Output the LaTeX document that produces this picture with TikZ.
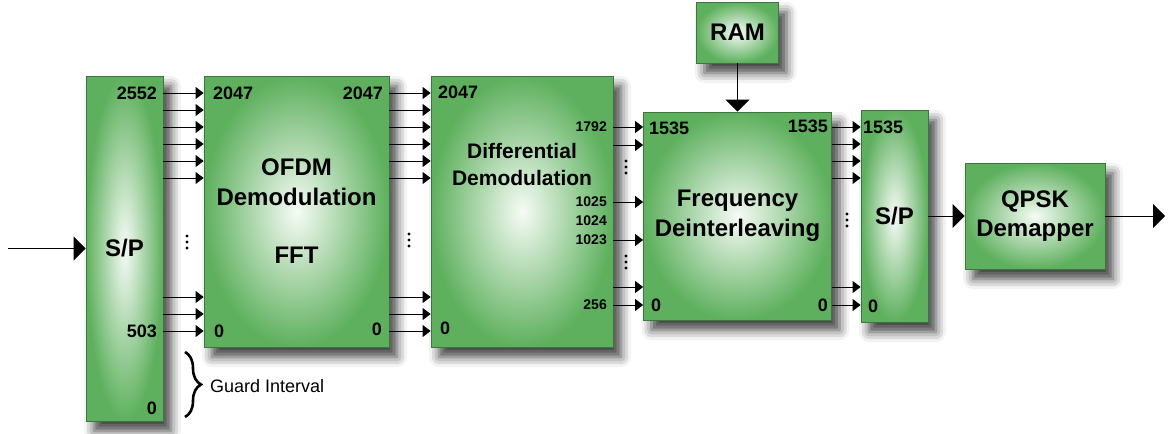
\documentclass[tikz,border=0pt]{standalone}
\usepackage{fontspec}
\setmainfont{Liberation Sans}
\usetikzlibrary{arrows.meta,shadows.blur,decorations.pathreplacing}
\definecolor{blockgreen}{RGB}{94,176,94}
\definecolor{blockcore}{RGB}{246,251,246}
\definecolor{blockedge}{RGB}{62,116,62}
\begin{document}
\begin{tikzpicture}[x=1pt,y=-1pt,
  block/.style={draw=blockedge, line width=0.8pt, shading=radial, inner color=blockcore, outer color=blockgreen,
    blur shadow={shadow xshift=8pt, shadow yshift=-10pt, shadow blur radius=10pt, shadow opacity=75},
    align=center, inner sep=0pt, font=\fontsize{24}{29.5}\selectfont\bfseries},
  port/.style={inner sep=0pt, font=\fontsize{18}{20}\selectfont\bfseries},
  subport/.style={inner sep=0pt, font=\fontsize{14}{16}\selectfont\bfseries},
  wire/.style={line width=0.8pt, -{Triangle[length=8pt,width=12pt]}},
  mainwire/.style={line width=0.8pt, -{Triangle[length=12pt,width=24pt]}}]
  \useasboundingbox (0,0) rectangle (1171,434);

  % blocks
  \node[block, minimum width=77pt, minimum height=345pt] (sp1) at (124.5,248.5) {S/P};
  \node[block, minimum width=185pt, minimum height=271pt] (ofdm) at (296.5,211.5) {OFDM\\Demodulation\\[29pt]FFT};
  \node[block, minimum width=182pt, minimum height=271pt] (diff) at (522,211.5) {};
  \node[block, minimum width=188pt, minimum height=208pt] (freq) at (737.5,216) {Frequency\\Deinterleaving};
  \node[block, minimum width=82pt, minimum height=61pt] (ram) at (737.5,32.5) {RAM};
  \node[block, minimum width=67pt, minimum height=212pt] (sp2) at (894.5,216) {S/P};
  \node[block, minimum width=140pt, minimum height=106pt] (qpsk) at (1035,216) {QPSK\\Demapper};
  \node[align=center, inner sep=0pt, font=\fontsize{21}{27}\selectfont\bfseries] (difftxt) at (522,164) {Differential\\Demodulation};

  % port numbers
  \node[port, anchor=east] (sp1hi) at (157,93) {2552};
  \node[port, anchor=east] (sp1gi) at (157,331) {503};
  \node[port, anchor=east] (sp1lo) at (157,408) {0};
  \node[port, anchor=west] (ofdmhi) at (213,93) {2047};
  \node[port, anchor=east] (ofdmhr) at (383,93) {2047};
  \node[port, anchor=west] (ofdmlo) at (214,331) {0};
  \node[port, anchor=east] (ofdmlr) at (382,329) {0};
  \node[port, anchor=west] (diffhi) at (438,92) {2047};
  \node[port, anchor=west] (difflo) at (440,328) {0};
  \node[subport, anchor=east] (d1792) at (607,127) {1792};
  \node[subport, anchor=east] (d1025) at (607,202) {1025};
  \node[subport, anchor=east] (d1024) at (607,221) {1024};
  \node[subport, anchor=east] (d1023) at (607,240) {1023};
  \node[subport, anchor=east] (d256) at (607,305) {256};
  \node[port, anchor=west] (freqhi) at (649,128) {1535};
  \node[port, anchor=east] (freqhr) at (828,126) {1535};
  \node[port, anchor=west] (freqlo) at (651,305) {0};
  \node[port, anchor=east] (freqlr) at (828,305) {0};
  \node[port, anchor=west] (sp2hi) at (863,127) {1535};
  \node[port, anchor=west] (sp2lo) at (868,306) {0};

  % parallel lines
  \foreach \y in {93,110,127,144,161,178,297,314,331}
    \draw[wire] (sp1.east |- 0,\y) -- (ofdm.west |- 0,\y);
  \foreach \y in {93,110,127,144,161,178,297,314,331}
    \draw[wire] (ofdm.east |- 0,\y) -- (diff.west |- 0,\y);
  \foreach \y in {127,145,202,240,287,305}
    \draw[wire] (diff.east |- 0,\y) -- (freq.west |- 0,\y);
  \foreach \y in {127,144,161,178,287,305}
    \draw[wire] (freq.east |- 0,\y) -- (sp2.west |- 0,\y);

  % dots
  \foreach \x/\y in {187/242,409/240,626/167,626/262,847/220}
    \foreach \k in {-6,0,6}
      \fill (\x,\y+\k) circle[radius=1.7pt];

  % main path
  \coordinate (in) at (8,248.5);
  \coordinate (out) at (1165,216);
  \draw[mainwire] (in) -- (sp1);
  \draw[mainwire] (ram) -- (freq);
  \draw[mainwire] (sp2) -- (qpsk);
  \draw[mainwire] (qpsk) -- (out);

  % guard interval
  \coordinate (gtop) at (185,352);
  \coordinate (gbot) at (185,417);
  \draw[decorate, decoration={brace, amplitude=16pt}, line width=2.6pt] (gtop) -- (gbot);
  \node[anchor=west, inner sep=0pt, font=\fontsize{18}{20}\selectfont] (guard) at (210,386) {Guard Interval};
\end{tikzpicture}
\end{document}
